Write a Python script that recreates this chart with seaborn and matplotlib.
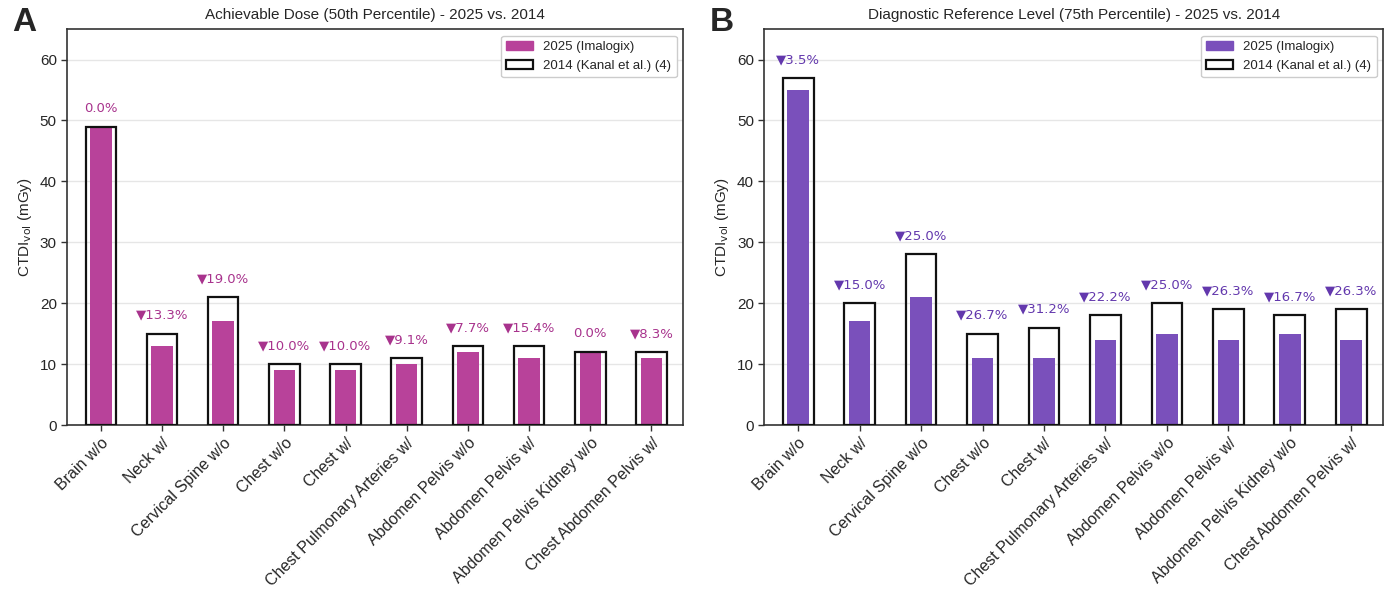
import matplotlib
matplotlib.use("Agg")
import matplotlib.pyplot as plt
import seaborn as sns
import pandas as pd
from matplotlib.patches import Patch

categories = ["Brain w/o", "Neck w/", "Cervical Spine w/o", "Chest w/o", "Chest w/",
              "Chest Pulmonary Arteries w/", "Abdomen Pelvis w/o", "Abdomen Pelvis w/",
              "Abdomen Pelvis Kidney w/o", "Chest Abdomen Pelvis w/"]
ad_2025 = [49, 13, 17, 9, 9, 10, 12, 11, 12, 11]
ad_2014 = [49, 15, 21, 10, 10, 11, 13, 13, 12, 12]
drl_2025 = [55, 17, 21, 11, 11, 14, 15, 14, 15, 14]
drl_2014 = [57, 20, 28, 15, 16, 18, 20, 19, 18, 19]

sns.set_theme(style="white")
plt.rcParams['font.family'] = ['Liberation Sans', 'DejaVu Sans']

fig = plt.figure(figsize=(14, 5.94), dpi=100)
axA = fig.add_axes([0.048, 0.2845, 0.440, 0.6665])
axB = fig.add_axes([0.546, 0.2845, 0.442, 0.6665])

panels = [
    (axA, ad_2025, ad_2014, "#b8429a", "#a8338d", "Achievable Dose (50th Percentile) - 2025 vs. 2014", "A"),
    (axB, drl_2025, drl_2014, "#7a50bb", "#6338ad", "Diagnostic Reference Level (75th Percentile) - 2025 vs. 2014", "B"),
]

for ax, new, old, col, tcol, title, letter in panels:
    df = pd.DataFrame({"cat": categories, "new": new, "old": old})
    ax.set_axisbelow(True)
    ax.yaxis.grid(True, color="#e6e6e6", linewidth=1.0, zorder=0)
    sns.barplot(data=df, x="cat", y="new", ax=ax, color=col, width=0.35,
                saturation=1, edgecolor=col, linewidth=0, zorder=2)
    sns.barplot(data=df, x="cat", y="old", ax=ax, fill=False, width=0.5,
                edgecolor="#111111", linewidth=1.6, zorder=3)
    for i, (n, o) in enumerate(zip(new, old)):
        pct = (o - n) / o * 100
        txt = "0.0%" if pct == 0 else "\u25bc%.1f%%" % pct
        ax.text(i, max(n, o) + 3, txt, ha="center", va="center", color=tcol,
                fontsize=9.5, family=["DejaVu Sans"])
    ax.set_ylim(0, 65)
    ax.set_xlim(-0.55, 9.52)
    ax.set_yticks([0, 10, 20, 30, 40, 50, 60])
    ax.set_xlabel("")
    ax.set_ylabel("CTDI$_{\\mathrm{vol}}$ (mGy)", fontsize=11)
    ax.set_title(title, fontsize=11, pad=7)
    ax.set_xticks(range(len(categories)))
    ax.set_xticklabels(categories, rotation=45, ha="right", rotation_mode="anchor", fontsize=11.5)
    ax.tick_params(axis="both", which="both", length=4, width=1, color="#333333",
                   bottom=True, left=True)
    ax.tick_params(axis="y", labelsize=11)
    for s in ax.spines.values():
        s.set_color("#333333")
        s.set_linewidth(1.2)
    handles = [Patch(facecolor=col, edgecolor=col, label="2025 (Imalogix)"),
               Patch(facecolor="white", edgecolor="#111111", linewidth=1.6, label="2014 (Kanal et al.) (4)")]
    ax.legend(handles=handles, loc="upper right", fontsize=9.5, frameon=True,
              edgecolor="#cccccc", framealpha=1)
    pos = ax.get_position()
    fig.text(pos.x0 - 0.039, 0.962, letter, fontsize=24, fontweight="bold", va="center", ha="left")

fig.savefig("out.png", dpi=100)
